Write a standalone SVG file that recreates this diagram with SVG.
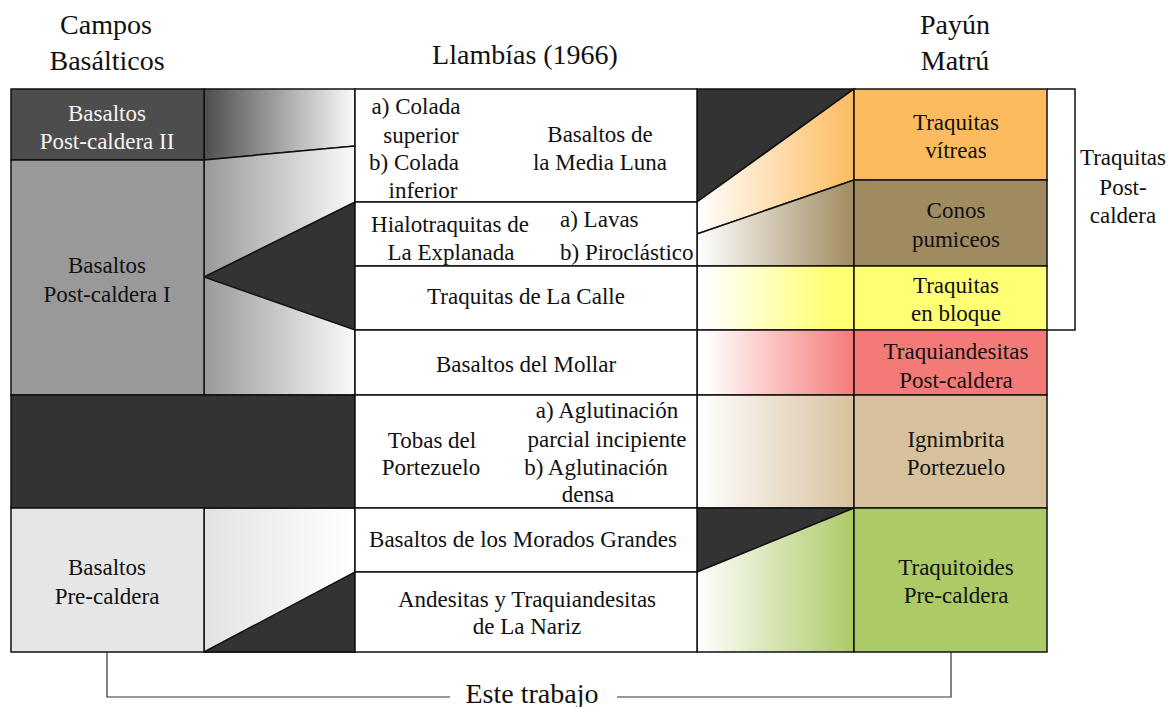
<svg xmlns="http://www.w3.org/2000/svg" width="1168" height="707" viewBox="0 0 1168 707">
<style>
text{font-family:"Liberation Serif","Times New Roman",serif;font-size:23px;fill:#111;text-anchor:middle}
.h{font-size:28px}
.l{text-anchor:start}
.w{fill:#f4f4f4}
.b{stroke:#111;stroke-width:1.5}
.dk{fill:#333333;stroke:#111;stroke-width:1.5}
.br{fill:none;stroke:#333;stroke-width:1.2}
</style>
<defs>
<linearGradient id="gTop" x1="0" x2="1" y1="0" y2="0"><stop offset="0" stop-color="#4d4d4d"/><stop offset="1" stop-color="#fafafa"/></linearGradient>
<linearGradient id="gMid" x1="0" x2="1" y1="0" y2="0"><stop offset="0" stop-color="#999"/><stop offset="1" stop-color="#fafafa"/></linearGradient>
<linearGradient id="gLow" x1="0" x2="1" y1="0" y2="0"><stop offset="0" stop-color="#e3e3e3"/><stop offset="1" stop-color="#fff"/></linearGradient>
<linearGradient id="gOr" gradientUnits="userSpaceOnUse" x1="697" x2="854" y1="0" y2="0"><stop offset="0" stop-color="#fff"/><stop offset="1" stop-color="#fdbb5f"/></linearGradient>
<linearGradient id="gBr" gradientUnits="userSpaceOnUse" x1="697" x2="854" y1="0" y2="0"><stop offset="0" stop-color="#fff"/><stop offset="1" stop-color="#a08a60"/></linearGradient>
<linearGradient id="gYe" gradientUnits="userSpaceOnUse" x1="697" x2="854" y1="0" y2="0"><stop offset="0.05" stop-color="#fff"/><stop offset="0.85" stop-color="#ffff73"/></linearGradient>
<linearGradient id="gRe" gradientUnits="userSpaceOnUse" x1="697" x2="854" y1="0" y2="0"><stop offset="0.05" stop-color="#fff"/><stop offset="1" stop-color="#f47a78"/></linearGradient>
<linearGradient id="gTa" gradientUnits="userSpaceOnUse" x1="697" x2="854" y1="0" y2="0"><stop offset="0" stop-color="#fff"/><stop offset="1" stop-color="#d7c19d"/></linearGradient>
<linearGradient id="gGr" gradientUnits="userSpaceOnUse" x1="697" x2="854" y1="0" y2="0"><stop offset="0" stop-color="#fff"/><stop offset="1" stop-color="#acca66"/></linearGradient>
</defs>
<rect width="1168" height="707" fill="#fff"/>

<g id="headers">
<text class="h" x="106" y="34">Campos</text>
<text class="h" x="107" y="70">Basálticos</text>
<text class="h" x="525" y="64">Llambías (1966)</text>
<text class="h" x="955" y="34">Payún</text>
<text class="h" x="955" y="70">Matrú</text>
</g>

<g id="connectors">
<polygon points="204,89 355,89 355,146 204,160" fill="url(#gTop)" class="b"/>
<polygon points="204,160 355,146 355,395 204,395" fill="url(#gMid)" class="b"/>
<polygon points="204,277 355,202 355,330" class="dk"/>
<rect x="204" y="508" width="151" height="144" fill="url(#gLow)" class="b"/>
<polygon points="204,652 355,572 355,652" class="dk"/>
<polygon points="697,89 854,89 697,202" class="dk"/>
<polygon points="697,202 854,89 854,180 697,234" fill="url(#gOr)" class="b"/>
<polygon points="697,234 854,180 854,266 697,266" fill="url(#gBr)" class="b"/>
<rect x="697" y="266" width="157" height="64" fill="url(#gYe)" class="b"/>
<rect x="697" y="330" width="157" height="65" fill="url(#gRe)" class="b"/>
<rect x="697" y="395" width="157" height="113" fill="url(#gTa)" class="b"/>
<polygon points="697,508 854,508 697,572" class="dk"/>
<polygon points="697,572 854,508 854,652 697,652" fill="url(#gGr)" class="b"/>
</g>

<g id="n-bpc2"><rect x="11" y="89" width="193" height="71" fill="#4d4d4d" class="b"/><text class="w" x="107" y="121">Basaltos</text><text class="w" x="107" y="149">Post-caldera II</text></g>
<g id="n-bpc1"><rect x="11" y="160" width="193" height="235" fill="#999" class="b"/><text x="107" y="273">Basaltos</text><text x="107" y="302">Post-caldera I</text></g>
<g id="n-dark"><rect x="11" y="395" width="344" height="113" class="dk"/></g>
<g id="n-bpre"><rect x="11" y="508" width="193" height="144" fill="#e6e6e6" class="b"/><text x="107" y="575">Basaltos</text><text x="107" y="604">Pre-caldera</text></g>

<g id="n-medialuna"><rect x="355" y="89" width="342" height="113" fill="#fff" class="b"/>
<text x="416" y="114">a) Colada</text><text x="421" y="143">superior</text><text x="414" y="170">b) Colada</text><text x="423" y="198">inferior</text>
<text x="600" y="142">Basaltos de</text><text x="600" y="170">la Media Luna</text></g>
<g id="n-explanada"><rect x="355" y="202" width="342" height="64" fill="#fff" class="b"/>
<text x="450" y="232">Hialotraquitas de</text><text x="451" y="260">La Explanada</text>
<text class="l" x="560" y="227">a) Lavas</text><text class="l" x="560" y="260">b) Piroclástico</text></g>
<g id="n-calle"><rect x="355" y="266" width="342" height="64" fill="#fff" class="b"/><text x="526" y="304">Traquitas de La Calle</text></g>
<g id="n-mollar"><rect x="355" y="330" width="342" height="65" fill="#fff" class="b"/><text x="526" y="372">Basaltos del Mollar</text></g>
<g id="n-tobas"><rect x="355" y="395" width="342" height="113" fill="#fff" class="b"/>
<text x="432" y="448">Tobas del</text><text x="431" y="475">Portezuelo</text>
<text x="607" y="418">a) Aglutinación</text><text x="607" y="447">parcial incipiente</text><text x="596" y="475">b) Aglutinación</text><text x="588" y="502">densa</text></g>
<g id="n-morados"><rect x="355" y="508" width="342" height="64" fill="#fff" class="b"/><text x="523" y="547">Basaltos de los Morados Grandes</text></g>
<g id="n-nariz"><rect x="355" y="572" width="342" height="80" fill="#fff" class="b"/><text x="527" y="607">Andesitas y Traquiandesitas</text><text x="527" y="634">de La Nariz</text></g>

<g id="n-vitreas"><rect x="854" y="89" width="193" height="91" fill="#fdbb5f" class="b"/><text x="956" y="130">Traquitas</text><text x="956" y="158">vítreas</text></g>
<g id="n-conos"><rect x="854" y="180" width="193" height="86" fill="#a08a60" class="b"/><text x="956" y="218">Conos</text><text x="956" y="247">pumiceos</text></g>
<g id="n-bloque"><rect x="854" y="266" width="193" height="64" fill="#ffff73" class="b"/><text x="956" y="293">Traquitas</text><text x="956" y="321">en bloque</text></g>
<g id="n-traqand"><rect x="854" y="330" width="193" height="65" fill="#f47a78" class="b"/><text x="956" y="359">Traquiandesitas</text><text x="956" y="388">Post-caldera</text></g>
<g id="n-ign"><rect x="854" y="395" width="193" height="113" fill="#d7c19d" class="b"/><text x="956" y="447">Ignimbrita</text><text x="956" y="475">Portezuelo</text></g>
<g id="n-traquitoides"><rect x="854" y="508" width="193" height="144" fill="#acca66" class="b"/><text x="956" y="575">Traquitoides</text><text x="956" y="603">Pre-caldera</text></g>

<g id="bracket-right"><polyline points="1047,89 1075,89 1075,330 1047,330" fill="none" stroke="#111" stroke-width="1.5"/>
<text x="1123" y="165">Traquitas</text><text x="1123" y="195">Post-</text><text x="1123" y="223">caldera</text></g>

<g id="bracket-bottom"><polyline points="107,652 107,697 450,697" class="br"/><polyline points="617,697 951,697 951,652" class="br"/>
<text class="h" x="532" y="703">Este trabajo</text></g>
</svg>
